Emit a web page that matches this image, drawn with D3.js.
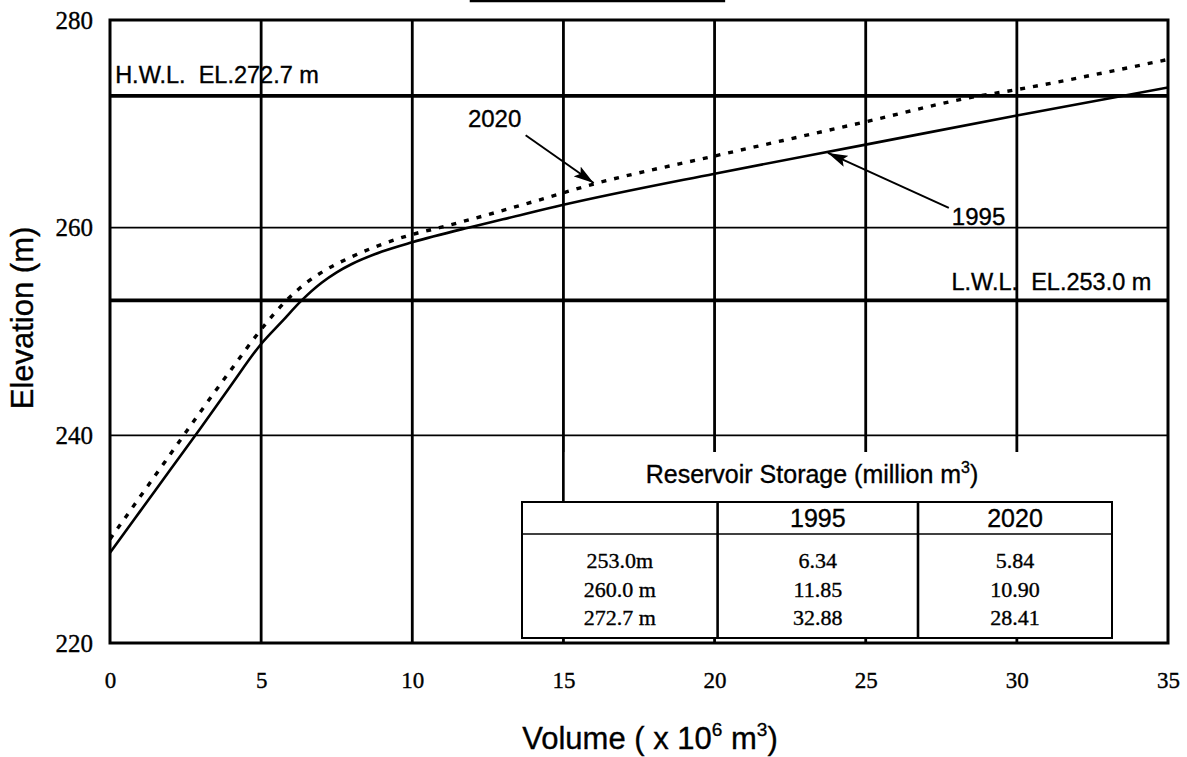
<!DOCTYPE html>
<html>
<head>
<meta charset="utf-8">
<script src="https://cdn.jsdelivr.net/npm/d3@7"></script>
<style>
  html, body { margin: 0; padding: 0; background: #fff; }
  svg { display: block; }
  text { stroke: #000; stroke-width: 0.35px; }
</style>
</head>
<body>
<script>
// volume (x10^6 m3) vs elevation (m)
const vol1995  = [0, 1, 2, 3, 4, 5, 5.7, 6.34, 7, 7.5, 8, 9, 10, 11.85, 13, 15, 20, 25, 30, 35];
const elev1995 = [228.7, 232.7, 236.7, 240.7, 244.8, 248.8, 251.0, 253.0, 254.7, 255.7, 256.5, 257.7, 258.6, 260.0, 260.8, 262.2, 265.2, 268.0, 270.8, 273.5];

const vol2020  = [0, 1, 2, 3, 4, 5, 5.84, 6.5, 7, 8, 9, 10, 10.9, 12, 14, 16, 20, 25, 28.41, 30, 35];
const elev2020 = [230.0, 234.1, 238.2, 242.3, 246.3, 250.2, 253.0, 254.7, 255.7, 257.2, 258.4, 259.35, 260.0, 260.85, 262.5, 264.2, 266.9, 270.2, 272.5, 273.3, 276.2];

const xTicks = [0, 5, 10, 15, 20, 25, 30, 35];
const yTicks = [220, 240, 260, 280];

const hwl = 272.7, lwl = 253.0;

// reservoir storage table (million m3)
const storageLevels = ["253.0m", "260.0 m", "272.7 m"];
const storage1995 = ["6.34", "11.85", "32.88"];
const storage2020 = ["5.84", "10.90", "28.41"];
const storageYears = ["1995", "2020"];

const width = 1187, height = 757;
const plotLeft = 110, plotRight = 1168, plotTop = 20, plotBottom = 643;

const serif = "'Liberation Serif', 'Times New Roman', serif";
const sans = "'Liberation Sans', Arial, Helvetica, sans-serif";

const x = d3.scaleLinear().domain([0, 35]).range([plotLeft, plotRight]);
const y = d3.scaleLinear().domain([220, 280]).range([plotBottom, plotTop]);

const svg = d3.select("body").append("svg")
  .attr("width", width)
  .attr("height", height)
  .attr("viewBox", `0 0 ${width} ${height}`);

const defs = svg.append("defs");
defs.append("clipPath").attr("id", "plot-clip")
  .append("rect")
  .attr("x", plotLeft).attr("y", plotTop)
  .attr("width", plotRight - plotLeft).attr("height", plotBottom - plotTop);

defs.append("marker")
  .attr("id", "arrowhead")
  .attr("viewBox", "0 0 20 12")
  .attr("refX", 20).attr("refY", 6)
  .attr("markerWidth", 20).attr("markerHeight", 12)
  .attr("markerUnits", "userSpaceOnUse")
  .attr("orient", "auto")
  .append("path")
  .attr("d", "M0,0 L20,6 L0,12 L4,6 Z")
  .attr("fill", "#000");

// remnant of the cropped title underline
svg.append("line")
  .attr("x1", x(11.9)).attr("x2", x(20.35))
  .attr("y1", 1).attr("y2", 1)
  .attr("stroke", "#000").attr("stroke-width", 2.4);

// grid
const grid = svg.append("g");
grid.selectAll("line.v")
  .data(xTicks.filter(d => d > 0 && d < 35))
  .join("line")
    .attr("class", "v")
    .attr("x1", d => x(d)).attr("x2", d => x(d))
    .attr("y1", plotTop).attr("y2", plotBottom)
    .attr("stroke", "#000").attr("stroke-width", 2.8);

grid.selectAll("line.h")
  .data(yTicks.filter(d => d > 220 && d < 280))
  .join("line")
    .attr("class", "h")
    .attr("x1", plotLeft).attr("x2", plotRight)
    .attr("y1", d => y(d)).attr("y2", d => y(d))
    .attr("stroke", "#000").attr("stroke-width", 1.8);

// water levels
grid.selectAll("line.wl")
  .data([hwl, lwl])
  .join("line")
    .attr("class", "wl")
    .attr("x1", plotLeft).attr("x2", plotRight)
    .attr("y1", d => y(d)).attr("y2", d => y(d))
    .attr("stroke", "#000").attr("stroke-width", 3.8);

svg.append("text")
  .attr("x", x(0.17)).attr("y", y(273.9))
  .attr("font-family", sans).attr("font-size", 23.5)
  .style("white-space", "pre")
  .text("H.W.L.  EL.272.7 m");

svg.append("text")
  .attr("x", x(34.45)).attr("y", y(254.0))
  .attr("text-anchor", "end")
  .attr("font-family", sans).attr("font-size", 23.5)
  .style("white-space", "pre")
  .text("L.W.L.  EL.253.0 m");

// curves
const line = d3.line()
  .x(d => x(d[0]))
  .y(d => y(d[1]))
  .curve(d3.curveMonotoneX);

const plot = svg.append("g").attr("clip-path", "url(#plot-clip)");

plot.append("path")
  .datum(d3.zip(vol1995, elev1995))
  .attr("d", line)
  .attr("fill", "none")
  .attr("stroke", "#000")
  .attr("stroke-width", 2.6);

plot.append("path")
  .datum(d3.zip(vol2020, elev2020))
  .attr("d", line)
  .attr("fill", "none")
  .attr("stroke", "#000")
  .attr("stroke-width", 3.4)
  .attr("stroke-dasharray", "5 8");

// curve labels with arrows
const callouts = [
  { label: "2020", tx: 11.84, ty: 269.7, ax: 13.75, ay: 268.9, bx: 16.0, by: 264.3 },
  { label: "1995", tx: 27.85, ty: 260.3, ax: 27.75, ay: 261.9, bx: 23.75, by: 267.2 }
];

svg.selectAll("line.arrow")
  .data(callouts)
  .join("line")
    .attr("class", "arrow")
    .attr("x1", d => x(d.ax)).attr("y1", d => y(d.ay))
    .attr("x2", d => x(d.bx)).attr("y2", d => y(d.by))
    .attr("stroke", "#000").attr("stroke-width", 2)
    .attr("marker-end", "url(#arrowhead)");

svg.selectAll("text.callout")
  .data(callouts)
  .join("text")
    .attr("class", "callout")
    .attr("x", d => x(d.tx)).attr("y", d => y(d.ty))
    .attr("font-family", sans).attr("font-size", 24)
    .text(d => d.label);

// storage table
const maskTop = 452, tableTop = 502, headerBottom = 534, tableBottom = 638;
const tableLeft = 522, tableRight = 1112;
const colEdges = [tableLeft, x(20.1), 918, tableRight];
const rowY = [568, 597, 625];

svg.append("rect")
  .attr("x", x(15) + 1.4).attr("y", maskTop)
  .attr("width", plotRight - x(15) - 2.8).attr("height", tableTop - maskTop)
  .attr("fill", "#fff");

svg.append("text")
  .attr("x", (tableLeft + tableRight) / 2 - 5).attr("y", 483)
  .attr("text-anchor", "middle")
  .attr("font-family", sans).attr("font-size", 25)
  .call(t => {
    t.append("tspan").text("Reservoir Storage (million m");
    t.append("tspan").attr("font-size", 16).attr("dy", -10).text("3");
    t.append("tspan").attr("dy", 10).text(")");
  });

const table = svg.append("g");
table.append("rect")
  .attr("x", tableLeft).attr("y", tableTop)
  .attr("width", tableRight - tableLeft).attr("height", tableBottom - tableTop)
  .attr("fill", "#fff").attr("stroke", "#000").attr("stroke-width", 2);

table.append("line")
  .attr("x1", tableLeft).attr("x2", tableRight)
  .attr("y1", headerBottom).attr("y2", headerBottom)
  .attr("stroke", "#000").attr("stroke-width", 1.6);

table.selectAll("line.col")
  .data(colEdges.slice(1, 3))
  .join("line")
    .attr("class", "col")
    .attr("x1", d => d).attr("x2", d => d)
    .attr("y1", tableTop).attr("y2", tableBottom)
    .attr("stroke", "#000").attr("stroke-width", 2.6);

table.selectAll("text.head")
  .data(storageYears)
  .join("text")
    .attr("class", "head")
    .attr("x", (d, i) => (colEdges[i + 1] + colEdges[i + 2]) / 2)
    .attr("y", 527)
    .attr("text-anchor", "middle")
    .attr("font-family", sans).attr("font-size", 25)
    .text(d => d);

const columns = [storageLevels, storage1995, storage2020];
columns.forEach((col, c) => {
  table.selectAll(`text.c${c}`)
    .data(col)
    .join("text")
      .attr("class", `c${c}`)
      .attr("x", (colEdges[c] + colEdges[c + 1]) / 2)
      .attr("y", (d, i) => rowY[i])
      .attr("text-anchor", "middle")
      .attr("font-family", serif).attr("font-size", 22)
      .text(d => d);
});

// frame
svg.append("rect")
  .attr("x", plotLeft).attr("y", plotTop)
  .attr("width", plotRight - plotLeft).attr("height", plotBottom - plotTop)
  .attr("fill", "none").attr("stroke", "#000").attr("stroke-width", 3);

// axes
svg.append("g")
  .attr("transform", `translate(0,${plotBottom})`)
  .call(d3.axisBottom(x).tickValues(xTicks).tickSize(0).tickPadding(29))
  .call(g => g.select(".domain").remove())
  .call(g => g.selectAll("text")
    .attr("font-family", serif).attr("font-size", 23).attr("fill", "#000"));

svg.append("g")
  .attr("transform", `translate(${plotLeft},0)`)
  .call(d3.axisLeft(y).tickValues(yTicks).tickSize(0).tickPadding(17))
  .call(g => g.select(".domain").remove())
  .call(g => g.selectAll("text")
    .attr("font-family", serif).attr("font-size", 25).attr("fill", "#000"));

// axis titles
svg.append("text")
  .attr("x", 650).attr("y", 749)
  .attr("text-anchor", "middle")
  .attr("font-family", sans).attr("font-size", 31)
  .call(t => {
    t.append("tspan").text("Volume ( x 10");
    t.append("tspan").attr("font-size", 19).attr("dy", -13).text("6");
    t.append("tspan").attr("dy", 13).text(" m");
    t.append("tspan").attr("font-size", 19).attr("dy", -13).text("3");
    t.append("tspan").attr("dy", 13).text(")");
  });

svg.append("text")
  .attr("transform", `translate(33,318) rotate(-90)`)
  .attr("text-anchor", "middle")
  .attr("font-family", sans).attr("font-size", 31)
  .text("Elevation (m)");
</script>
</body>
</html>
